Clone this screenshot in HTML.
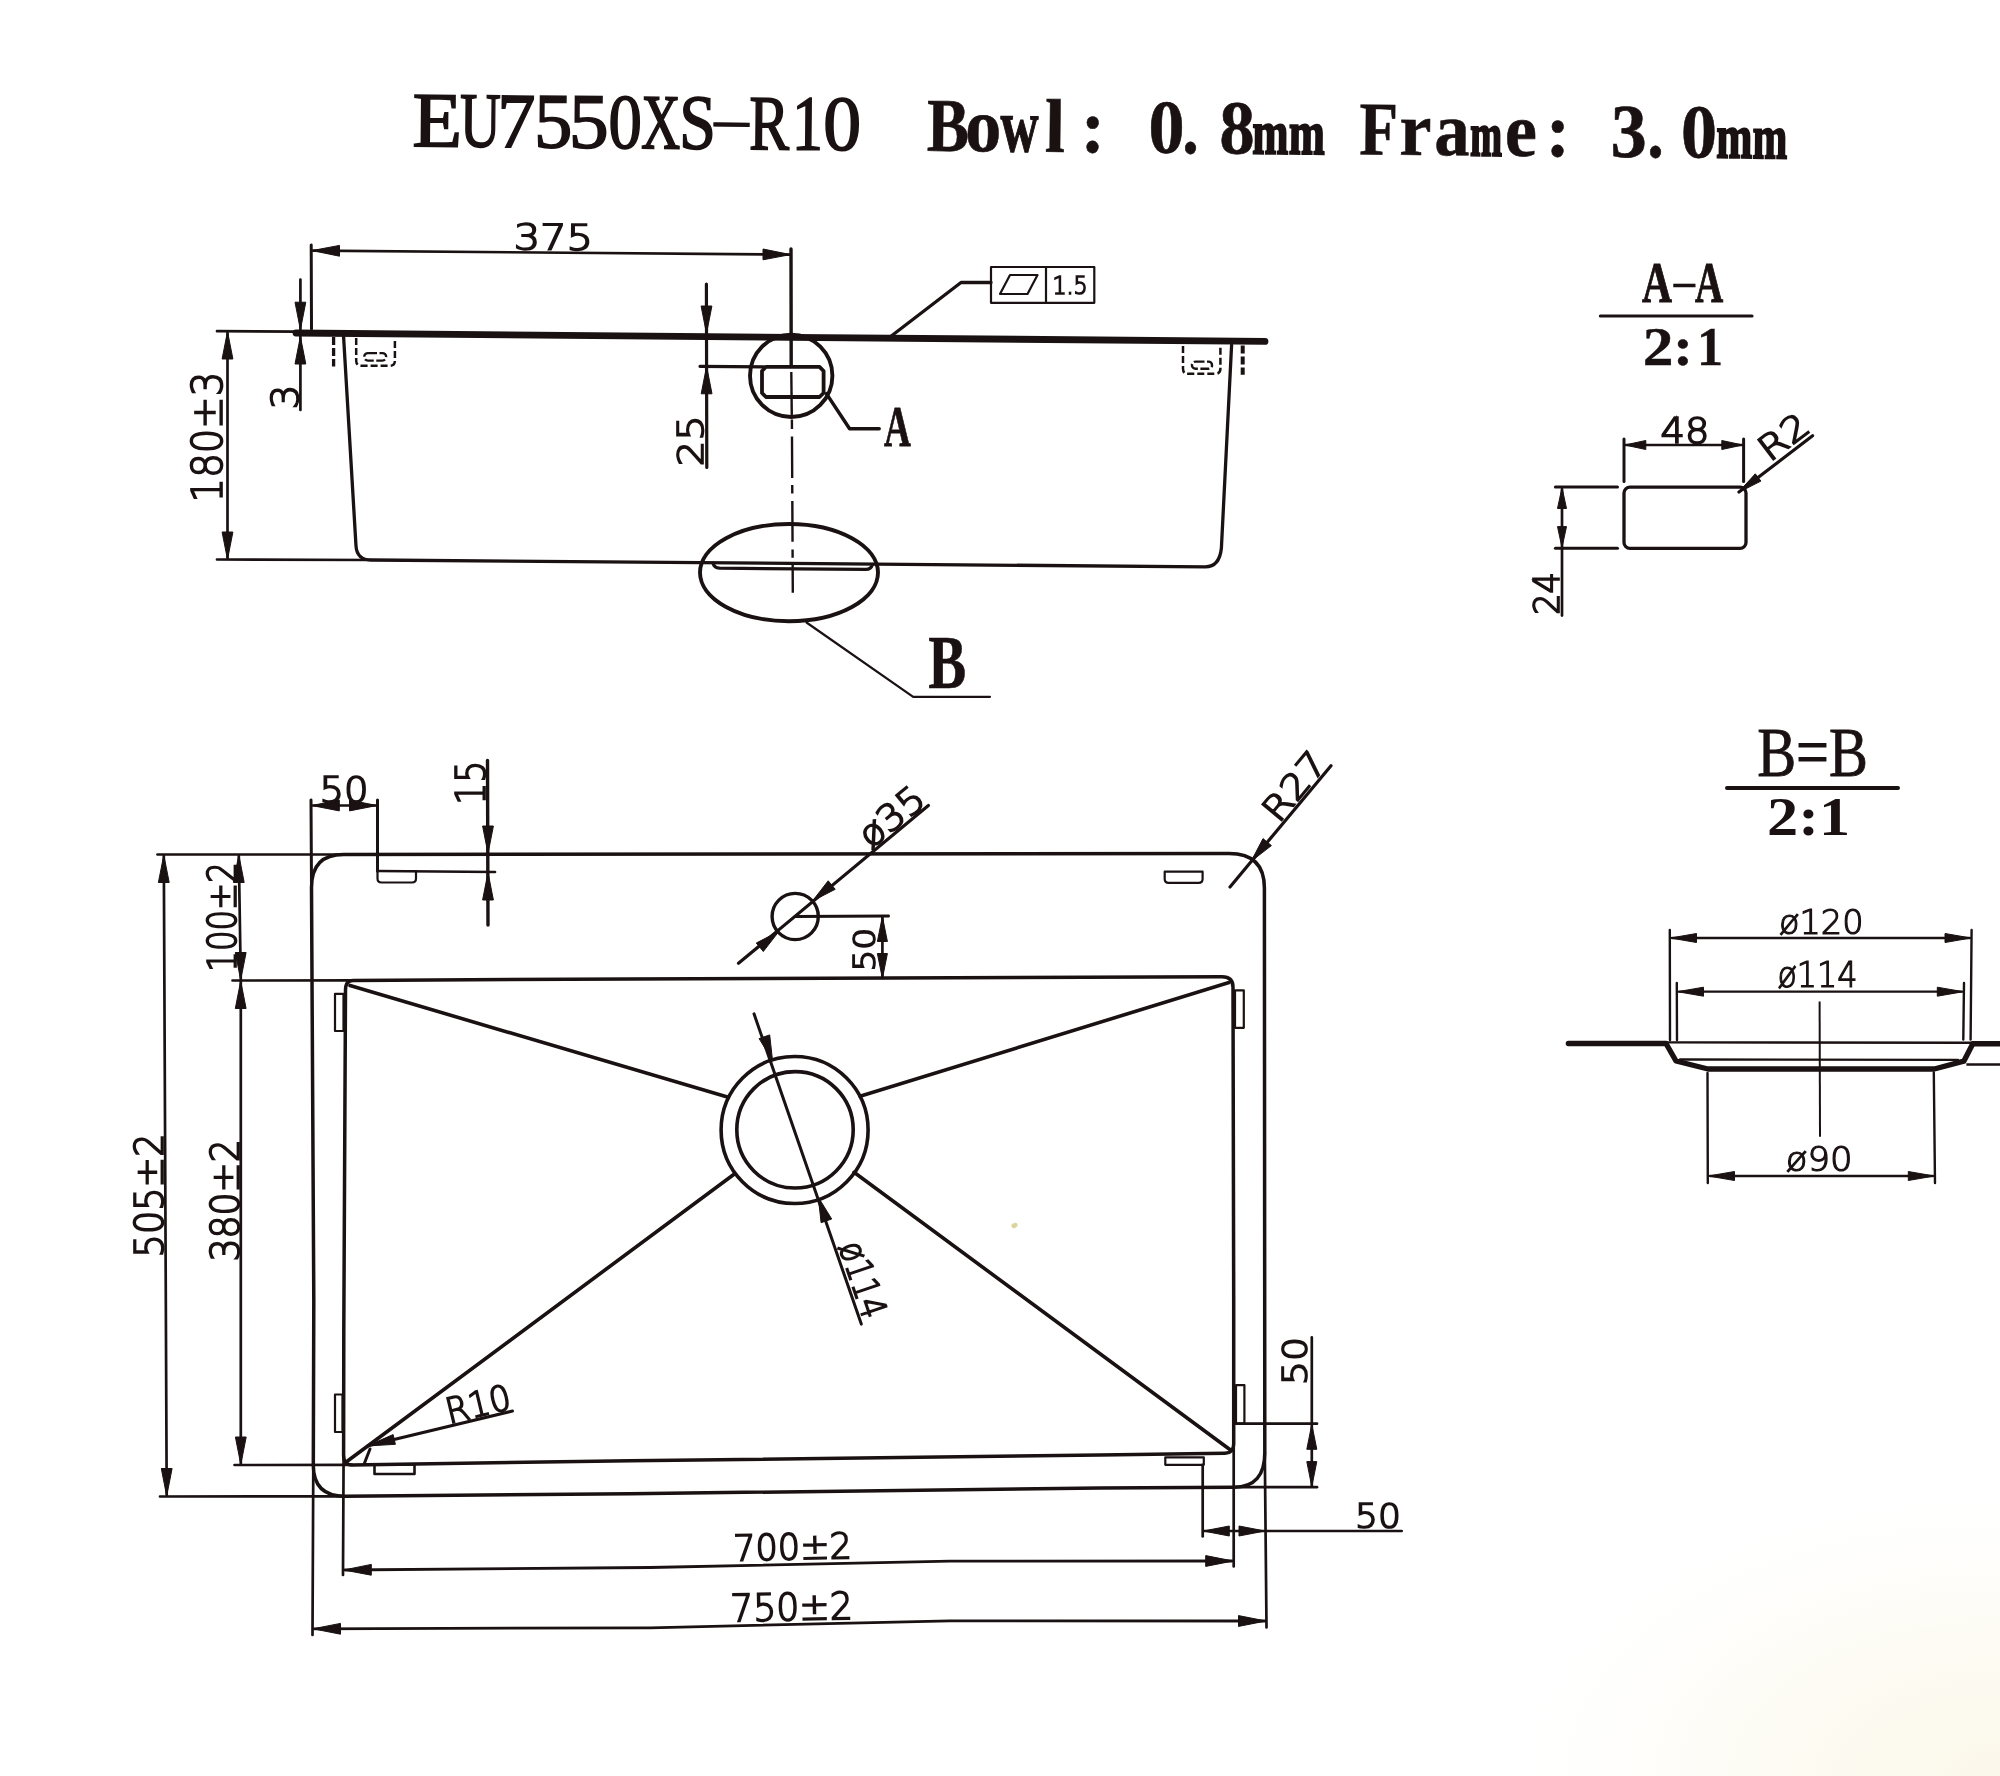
<!DOCTYPE html>
<html><head><meta charset="utf-8"><title>EU7550XS-R10</title>
<style>
html,body{margin:0;padding:0;background:#fff;overflow:hidden;}
svg{display:block;will-change:transform}
.dr path,.dr line,.dr circle,.dr ellipse,.dr rect{fill:none;stroke:#1a1112;stroke-linejoin:round}
.dr polygon{stroke:#1a1112;stroke-linejoin:round}
.dr .ar{fill:#1a1112;stroke:#1a1112;stroke-width:1}
.cad{font-family:"DejaVu Sans Light","DejaVu Sans","Liberation Sans",sans-serif;font-weight:200;fill:#1a1112;stroke:#1a1112}
.ser{font-family:"Liberation Serif","DejaVu Serif",serif;fill:#1a1112;stroke:#1a1112}
</style></head>
<body>
<svg width="2000" height="1776" viewBox="0 0 2000 1776">
<defs><radialGradient id="tint" gradientUnits="userSpaceOnUse" cx="2000" cy="1776" r="520" gradientTransform="translate(2000,1776) scale(1,0.58) translate(-2000,-1776)">
<stop offset="0" stop-color="#fbf8ea"/><stop offset="0.5" stop-color="#fcfaf0" stop-opacity="0.75"/><stop offset="1" stop-color="#ffffff" stop-opacity="0"/></radialGradient></defs>
<rect width="2000" height="1776" fill="#ffffff"/>
<rect width="2000" height="1776" fill="url(#tint)"/>
<g class="dr">
<text class="ser" font-size="78" font-weight="normal" stroke-width="1.7" transform="translate(413.8,146.2) rotate(0.5)"><tspan x="-1.5" y="0" textLength="49.7" lengthAdjust="spacingAndGlyphs">E</tspan><tspan x="45.9" y="0" textLength="40.7" lengthAdjust="spacingAndGlyphs">U</tspan><tspan x="83.3" y="0" textLength="38.0" lengthAdjust="spacingAndGlyphs">7</tspan><tspan x="120.1" y="0" textLength="38.2" lengthAdjust="spacingAndGlyphs">5</tspan><tspan x="154.9" y="0" textLength="39.8" lengthAdjust="spacingAndGlyphs">5</tspan><tspan x="194.5" y="0" textLength="33.4" lengthAdjust="spacingAndGlyphs">0</tspan><tspan x="227.2" y="0" textLength="39.2" lengthAdjust="spacingAndGlyphs">X</tspan><tspan x="265.1" y="0" textLength="36.8" lengthAdjust="spacingAndGlyphs">S</tspan><tspan x="295.5" y="-13.5" textLength="43.8" lengthAdjust="spacingAndGlyphs" stroke-width="0.8" font-size="46">-</tspan><tspan x="335.3" y="0" textLength="40.1" lengthAdjust="spacingAndGlyphs">R</tspan><tspan x="377.9" y="0" textLength="31.2" lengthAdjust="spacingAndGlyphs">1</tspan><tspan x="409.2" y="0" textLength="37.9" lengthAdjust="spacingAndGlyphs">0</tspan></text>
<text class="ser" font-size="76" font-weight="bold" stroke-width="0.6" transform="translate(413.8,146.2) rotate(0.5)"><tspan x="512.9" y="0" textLength="42.2" lengthAdjust="spacingAndGlyphs">B</tspan><tspan x="551.3" y="0" textLength="36.1" lengthAdjust="spacingAndGlyphs">o</tspan><tspan x="586.6" y="0" textLength="38.0" lengthAdjust="spacingAndGlyphs" stroke-width="1.2">w</tspan><tspan x="631.1" y="0" textLength="20.1" lengthAdjust="spacingAndGlyphs">l</tspan><tspan x="667.0" y="0" textLength="24.0" lengthAdjust="spacingAndGlyphs">:</tspan> <tspan x="734.4" y="0" textLength="36.1" lengthAdjust="spacingAndGlyphs">0</tspan><tspan x="768.6" y="0" textLength="16.5" lengthAdjust="spacingAndGlyphs">.</tspan><tspan x="805.5" y="0" textLength="35.3" lengthAdjust="spacingAndGlyphs">8</tspan><tspan x="838.6" y="0" textLength="36.0" lengthAdjust="spacingAndGlyphs" stroke-width="2.2" font-size="62">m</tspan><tspan x="874.9" y="0" textLength="35.9" lengthAdjust="spacingAndGlyphs" stroke-width="2.2" font-size="62">m</tspan> <tspan x="945.4" y="0" textLength="38.5" lengthAdjust="spacingAndGlyphs">F</tspan><tspan x="985.6" y="0" textLength="32.0" lengthAdjust="spacingAndGlyphs">r</tspan><tspan x="1020.5" y="0" textLength="35.2" lengthAdjust="spacingAndGlyphs">a</tspan><tspan x="1056.3" y="0" textLength="32.0" lengthAdjust="spacingAndGlyphs" stroke-width="2.2" font-size="62">m</tspan><tspan x="1091.1" y="0" textLength="32.0" lengthAdjust="spacingAndGlyphs">e</tspan><tspan x="1132.0" y="0" textLength="24.0" lengthAdjust="spacingAndGlyphs">:</tspan> <tspan x="1196.8" y="0" textLength="36.1" lengthAdjust="spacingAndGlyphs">3</tspan><tspan x="1233.6" y="0" textLength="16.5" lengthAdjust="spacingAndGlyphs">.</tspan><tspan x="1266.9" y="0" textLength="36.1" lengthAdjust="spacingAndGlyphs">0</tspan><tspan x="1302.4" y="0" textLength="35.9" lengthAdjust="spacingAndGlyphs" stroke-width="2.2" font-size="62">m</tspan><tspan x="1338.7" y="0" textLength="34.6" lengthAdjust="spacingAndGlyphs" stroke-width="2.2" font-size="62">m</tspan></text>
<path d="M217.0,331.2 L297.0,331.6" stroke-width="2.7" stroke-linecap="round"/>
<path d="M296.0,333.0 L1265.0,341.4" stroke-width="6.8" stroke-linecap="round"/>
<path d="M227.5,333.0 L227.5,558.0" stroke-width="2.7" stroke-linecap="round"/>
<polygon class="ar" points="227.5,331.5 232.9,359.0 222.1,359.0"/>
<polygon class="ar" points="227.5,559.5 222.1,532.0 232.9,532.0"/>
<path d="M217.0,559.5 L370.0,560.0" stroke-width="2.7" stroke-linecap="round"/>
<text class="cad" transform="translate(222.5,499.0) rotate(-90.00)" x="-3.4" y="-0.8" font-size="42.2" textLength="130.6" lengthAdjust="spacingAndGlyphs" stroke-width="1.7">180±3</text>
<path d="M300.4,279.5 L300.4,410.0" stroke-width="2.7" stroke-linecap="round"/>
<polygon class="ar" points="300.4,329.7 295.0,302.2 305.8,302.2"/>
<polygon class="ar" points="300.4,336.5 305.8,364.0 295.0,364.0"/>
<text class="cad" transform="translate(298.6,407.2) rotate(-90.00)" x="-2.1" y="-0.8" font-size="38.1" textLength="24.7" lengthAdjust="spacingAndGlyphs" stroke-width="1.7">3</text>
<path d="M311.2,245.0 L311.5,329.0" stroke-width="3.0" stroke-linecap="round"/>
<path d="M313.0,250.6 L790.0,254.6" stroke-width="2.7" stroke-linecap="round"/>
<polygon class="ar" points="312.0,250.6 339.5,245.4 339.5,256.2"/>
<polygon class="ar" points="790.5,254.6 763.0,259.8 763.0,249.0"/>
<text class="cad" transform="translate(516.0,250.0) rotate(0.50)" x="-2.3" y="-0.8" font-size="35.4" textLength="79.1" lengthAdjust="spacingAndGlyphs" stroke-width="1.7">375</text>
<path d="M343.6,337 L356,546 Q357,560 371,560 L1205,566.8 Q1219.5,567 1221.4,548 L1231.6,345" stroke-width="3.3" stroke-linecap="round"/>
<path d="M333.6,337.0 L333.6,366.6" stroke-width="3.3" stroke-linecap="butt" stroke-dasharray="8 3"/>
<path d="M356.2,338 L356.2,360.7 Q356.2,365.7 361.2,365.7 L389.9,365.7 Q394.9,365.7 394.9,360.7 L394.9,338" stroke-width="2.5" stroke-linecap="butt" stroke-dasharray="7 3"/>
<path d="M368,353.1 H382.4 A3.75,3.75 0 0 1 382.4,360.6 H368 A3.75,3.75 0 0 1 368,353.1 Z" stroke-width="2.4" stroke-linecap="butt" stroke-dasharray="9 2.5"/>
<path d="M1242.7,345.5 L1242.7,374.8" stroke-width="4" stroke-linecap="butt" stroke-dasharray="8 3"/>
<path d="M1183,346 L1183,368.8 Q1183,373.8 1188,373.8 L1215.4,373.8 Q1220.4,373.8 1220.4,368.8 L1220.4,346" stroke-width="2.5" stroke-linecap="butt" stroke-dasharray="7 3"/>
<path d="M1195.5,361.6 H1208.5 A3.55,3.55 0 0 1 1208.5,368.7 H1195.5 A3.55,3.55 0 0 1 1195.5,361.6 Z" stroke-width="2.4" stroke-linecap="butt" stroke-dasharray="9 2.5"/>
<path d="M706.4,284.0 L706.8,467.5" stroke-width="3.2" stroke-linecap="round"/>
<polygon class="ar" points="706.5,333.5 701.1,306.0 711.9,306.0"/>
<polygon class="ar" points="706.6,366.3 712.0,393.8 701.2,393.8"/>
<path d="M700.0,366.3 L764.0,366.8" stroke-width="3.2" stroke-linecap="round"/>
<text class="cad" transform="translate(703.8,464.4) rotate(-90.00)" x="-1.9" y="-0.8" font-size="36.1" textLength="51.0" lengthAdjust="spacingAndGlyphs" stroke-width="1.7">25</text>
<circle cx="791.2" cy="375.8" r="41.2" stroke-width="3.9"/>
<path d="M766,366.8 H819.5 L823.6,371 V393 L819.5,397 H766 L762,393 V371 Z" stroke-width="3.8" stroke-linecap="round"/>
<path d="M791.0,249.0 L791.2,366.0" stroke-width="3.4" stroke-linecap="round"/>
<path d="M791.3,372.0 L791.8,418.0" stroke-width="2.4" stroke-linecap="butt"/>
<path d="M791.9,419.5 L792.8,592.7" stroke-width="2.4" stroke-linecap="butt" stroke-dasharray="9.5 7.6 41.4 7 8.4 7.6 40.8 7.7 8.3 7.2 30"/>
<path d="M826.4,393.6 L849.6,428.8 L879.2,428.8" stroke-width="3.5" stroke-linecap="round"/>
<text class="ser" transform="translate(884.0,446.0) rotate(0)" x="0.0" y="-0.4" font-size="57.6" font-weight="bold" textLength="26.8" lengthAdjust="spacingAndGlyphs" stroke-width="0.8">A</text>
<path d="M890.0,337.0 L961.0,282.5 L991.0,282.5" stroke-width="3.3" stroke-linecap="round"/>
<rect x="991" y="267" width="103.3" height="35.8" stroke-width="2.2"/>
<path d="M1046.0,267.0 L1046.0,302.8" stroke-width="2.2" stroke-linecap="butt"/>
<polygon points="1000,294 1010,275 1037.5,275 1027.5,294" stroke-width="2.2" fill="none"/>
<text class="cad" transform="translate(1054.0,295.0) rotate(0.00)" x="-1.6" y="-0.8" font-size="24.6" textLength="35.3" lengthAdjust="spacingAndGlyphs" stroke-width="1.6">1.5</text>
<ellipse cx="789" cy="572.6" rx="89" ry="48.6" stroke-width="3.9"/>
<path d="M713,563.2 Q714,568 719.5,568.2 L866,569.4 Q871,569.4 872.5,564.5" stroke-width="3.2" stroke-linecap="round"/>
<path d="M806.5,622.5 L913.2,696.8 L990.0,696.8" stroke-width="2.2" stroke-linecap="round"/>
<text class="ser" transform="translate(928.8,688.4) rotate(0)" x="-0.6" y="-0.3" font-size="76.9" font-weight="bold" textLength="37.9" lengthAdjust="spacingAndGlyphs" stroke-width="0.6">B</text>
<text class="ser" font-size="57.3" font-weight="bold" stroke-width="1.0" transform="translate(1642,302) rotate(0)"><tspan x="0.1" y="0" textLength="30.0" lengthAdjust="spacingAndGlyphs">A</tspan><tspan x="28.9" y="-8.5" textLength="26.8" lengthAdjust="spacingAndGlyphs" stroke-width="0.6" font-size="36">-</tspan><tspan x="53.1" y="0" textLength="28.2" lengthAdjust="spacingAndGlyphs">A</tspan></text>
<path d="M1600.4,316.0 L1752.0,316.0" stroke-width="3.2" stroke-linecap="round"/>
<text class="ser" font-size="55.9" font-weight="bold" stroke-width="0.4" transform="translate(1644.3,365) rotate(0)"><tspan x="-1.5" y="0" textLength="30.7" lengthAdjust="spacingAndGlyphs">2</tspan><tspan x="28.7" y="0" textLength="20.2" lengthAdjust="spacingAndGlyphs">:</tspan><tspan x="52.6" y="0" textLength="26.1" lengthAdjust="spacingAndGlyphs">1</tspan></text>
<path d="M1624.0,439.0 L1624.0,481.5" stroke-width="3.0" stroke-linecap="round"/>
<path d="M1743.6,439.0 L1743.6,481.5" stroke-width="3.0" stroke-linecap="round"/>
<path d="M1626.0,445.0 L1742.0,445.0" stroke-width="2.7" stroke-linecap="round"/>
<polygon class="ar" points="1624.8,445.0 1645.8,440.5 1645.8,449.5"/>
<polygon class="ar" points="1742.8,445.0 1721.8,449.5 1721.8,440.5"/>
<text class="cad" transform="translate(1661.6,443.6) rotate(0.00)" x="-1.0" y="-0.8" font-size="35.5" textLength="48.8" lengthAdjust="spacingAndGlyphs" stroke-width="1.7">48</text>
<rect x="1624" y="487.1" width="122" height="61.3" rx="6" stroke-width="3.3"/>
<path d="M1739.0,492.0 L1812.6,435.8" stroke-width="3.2" stroke-linecap="round"/>
<polygon class="ar" points="1738.2,492.6 1755.3,473.8 1760.9,481.1"/>
<text class="cad" transform="translate(1773.2,461.0) rotate(-37.36)" x="-4.1" y="-0.8" font-size="34.7" textLength="53.8" lengthAdjust="spacingAndGlyphs" stroke-width="1.7">R2</text>
<path d="M1562.0,489.0 L1562.0,615.6" stroke-width="2.7" stroke-linecap="round"/>
<path d="M1555.4,486.9 L1617.5,486.9" stroke-width="3.0" stroke-linecap="round"/>
<path d="M1555.4,548.2 L1617.5,548.2" stroke-width="3.0" stroke-linecap="round"/>
<polygon class="ar" points="1562.0,487.5 1566.5,508.5 1557.5,508.5"/>
<polygon class="ar" points="1562.0,547.6 1557.5,526.6 1566.5,526.6"/>
<text class="cad" transform="translate(1559.6,613.3) rotate(-90.00)" x="-1.5" y="-0.8" font-size="35.1" textLength="42.6" lengthAdjust="spacingAndGlyphs" stroke-width="1.7">24</text>
<text class="ser" transform="translate(1758.5,776.3) rotate(0)" x="-1.3" y="-0.4" font-size="69.0" font-weight="normal" textLength="110.7" lengthAdjust="spacingAndGlyphs" stroke-width="0.8">B=B</text>
<path d="M1727.0,788.0 L1898.0,788.0" stroke-width="4.0" stroke-linecap="round"/>
<text class="ser" transform="translate(1769.7,835.4) rotate(0)" x="-2.6" y="0.0" font-size="54.0" font-weight="bold" textLength="83.1" lengthAdjust="spacingAndGlyphs" stroke-width="0">2:1</text>
<path d="M1669.8,930.0 L1670.0,1040.0" stroke-width="2.4" stroke-linecap="round"/>
<path d="M1971.6,930.0 L1970.6,1039.6" stroke-width="2.4" stroke-linecap="round"/>
<path d="M1672.0,938.0 L1970.0,938.0" stroke-width="2.3" stroke-linecap="round"/>
<polygon class="ar" points="1670.5,938.0 1696.5,933.5 1696.5,942.5"/>
<polygon class="ar" points="1971.0,938.0 1945.0,942.5 1945.0,933.5"/>
<text class="cad" transform="translate(1779.6,935.0) rotate(0.00)" x="-0.7" y="-0.6" font-size="34.0" textLength="84.6" lengthAdjust="spacingAndGlyphs" stroke-width="1.2">ø120</text>
<path d="M1676.8,983.0 L1677.0,1040.0" stroke-width="2.4" stroke-linecap="round"/>
<path d="M1964.0,983.0 L1963.3,1039.6" stroke-width="2.4" stroke-linecap="round"/>
<path d="M1679.0,991.7 L1962.0,991.7" stroke-width="2.3" stroke-linecap="round"/>
<polygon class="ar" points="1677.5,991.7 1703.5,987.2 1703.5,996.2"/>
<polygon class="ar" points="1963.3,991.7 1937.3,996.2 1937.3,987.2"/>
<text class="cad" transform="translate(1778.0,987.5) rotate(0.00)" x="-0.6" y="-0.6" font-size="34.7" textLength="80.2" lengthAdjust="spacingAndGlyphs" stroke-width="1.2">ø114</text>
<path d="M1819.6,1001.5 L1820.0,1136.7" stroke-width="2.0" stroke-linecap="butt"/>
<path d="M1568.4,1043.5 L1666,1043.5 L1676,1061 L1708,1069 L1934.3,1069 L1963.8,1061.2 L1972.8,1043.8 L2002,1043.8" stroke-width="5.4" stroke-linecap="round"/>
<path d="M1668,1042.4 L1971,1042.8" stroke-width="2.4" stroke-linecap="round"/>
<path d="M1680,1059.5 L1958,1059.9" stroke-width="2.4" stroke-linecap="round"/>
<path d="M1966.4,1064.5 L2002.0,1064.5" stroke-width="2.4" stroke-linecap="butt"/>
<path d="M1707.5,1073.0 L1707.8,1183.0" stroke-width="2.4" stroke-linecap="round"/>
<path d="M1933.8,1072.5 L1935.0,1183.0" stroke-width="2.4" stroke-linecap="round"/>
<path d="M1710.0,1176.0 L1933.0,1176.0" stroke-width="2.3" stroke-linecap="round"/>
<polygon class="ar" points="1708.5,1176.0 1734.5,1171.5 1734.5,1180.5"/>
<polygon class="ar" points="1934.3,1176.0 1908.3,1180.5 1908.3,1171.5"/>
<text class="cad" transform="translate(1786.6,1172.0) rotate(0.00)" x="-0.8" y="-0.6" font-size="33.3" textLength="66.9" lengthAdjust="spacingAndGlyphs" stroke-width="1.2">ø90</text>
<path d="M343.5,854.5 L1229,853.5 Q1264.4,853.5 1264.4,888 L1264.8,1452 Q1265,1487.2 1234,1487.2 L1100,1487.9 L630,1493.8 L345,1496.3 Q313.3,1496.3 313.3,1465 L313.8,1300 L311.5,887.5 Q311.5,854.5 343.5,854.5 Z" stroke-width="3.5" stroke-linecap="round"/>
<path d="M353,980.4 L630,979 L1222,976.7 Q1233,976.7 1233,987 L1233.7,1300 L1233.7,1444 Q1233.7,1453 1225,1453.2 L1100,1455 L630,1460.8 L352,1464.9 Q343.6,1464.9 343.6,1455 L343.8,1330 L345.5,990 Q345.5,980.4 353,980.4 Z" stroke-width="3.5" stroke-linecap="round"/>
<path d="M350.0,985.5 L728.3,1097.3" stroke-width="3.6" stroke-linecap="round"/>
<path d="M1229.0,982.5 L860.0,1096.3" stroke-width="3.6" stroke-linecap="round"/>
<path d="M347.5,1461.0 L734.4,1174.0" stroke-width="3.6" stroke-linecap="round"/>
<path d="M1230.5,1450.0 L854.0,1172.3" stroke-width="3.6" stroke-linecap="round"/>
<circle cx="794.6" cy="1130" r="73.5" stroke-width="3.6"/>
<circle cx="795" cy="1129.8" r="58.2" stroke-width="3.6"/>
<path d="M754.0,1013.8 L861.3,1324.1" stroke-width="3.0" stroke-linecap="round"/>
<polygon class="ar" points="772.5,1060.4 759.1,1038.6 769.7,1034.9"/>
<polygon class="ar" points="818.3,1197.2 831.7,1219.0 821.1,1222.7"/>
<text class="cad" transform="translate(837.9,1247.0) rotate(71.30)" x="-0.4" y="-0.8" font-size="36.1" textLength="78.5" lengthAdjust="spacingAndGlyphs" stroke-width="1.7">ø114</text>
<circle cx="795.2" cy="916.5" r="23.1" stroke-width="3.4"/>
<path d="M738.5,963.3 L928.4,805.4" stroke-width="3.2" stroke-linecap="round"/>
<polygon class="ar" points="779.0,931.3 763.3,951.5 756.3,943.0"/>
<polygon class="ar" points="812.5,901.0 828.2,880.8 835.2,889.3"/>
<text class="cad" transform="translate(871.7,850.0) rotate(-39.40)" x="-0.7" y="-0.8" font-size="36.1" textLength="74.2" lengthAdjust="spacingAndGlyphs" stroke-width="1.7">ø35</text>
<path d="M795.0,916.4 L888.5,916.0" stroke-width="3.0" stroke-linecap="round"/>
<path d="M882.4,917.0 L882.4,978.0" stroke-width="2.7" stroke-linecap="round"/>
<polygon class="ar" points="882.4,916.5 887.4,941.5 877.4,941.5"/>
<polygon class="ar" points="882.4,978.5 877.4,953.5 887.4,953.5"/>
<text class="cad" transform="translate(875.3,969.0) rotate(-90.00)" x="-2.6" y="-0.8" font-size="29.6" textLength="43.9" lengthAdjust="spacingAndGlyphs" stroke-width="1.7">50</text>
<path d="M1230.0,887.0 L1331.0,765.7" stroke-width="3.2" stroke-linecap="round"/>
<polygon class="ar" points="1251.2,861.3 1263.0,838.6 1271.4,845.6"/>
<text class="cad" transform="translate(1281.7,821.6) rotate(-50.15)" x="-4.1" y="-0.8" font-size="34.7" textLength="78.7" lengthAdjust="spacingAndGlyphs" stroke-width="1.7">R27</text>
<path d="M1164.7,871.7 H1202.6 V879 Q1202.6,882.9 1198.6,882.9 H1168.7 Q1164.7,882.9 1164.7,879 Z" stroke-width="2.2" stroke-linecap="round"/>
<path d="M377.5,871 H416 V878.5 Q416,882.5 412,882.5 H381.5 Q377.5,882.5 377.5,878.5 Z" stroke-width="2.2" stroke-linecap="round"/>
<rect x="335" y="993.8" width="8.5" height="37.2" stroke-width="2.2"/>
<rect x="335" y="1394.5" width="7.5" height="37.5" stroke-width="2.2"/>
<rect x="1235" y="990.3" width="8.8" height="37.5" stroke-width="2.2"/>
<rect x="1236" y="1385.2" width="8.4" height="38.5" stroke-width="2.2"/>
<rect x="374.5" y="1464.5" width="40" height="9.5" stroke-width="2.6"/>
<rect x="1165.3" y="1457.3" width="38.5" height="7.5" stroke-width="2.2"/>
<path d="M311.0,800.0 L311.5,888.0" stroke-width="3.0" stroke-linecap="round"/>
<path d="M377.5,800.0 L377.5,871.0" stroke-width="3.0" stroke-linecap="round"/>
<path d="M313.0,805.5 L376.0,805.5" stroke-width="2.7" stroke-linecap="round"/>
<polygon class="ar" points="311.8,805.5 339.3,800.1 339.3,810.9"/>
<polygon class="ar" points="377.0,805.5 349.5,810.9 349.5,800.1"/>
<text class="cad" transform="translate(322.5,802.5) rotate(0.00)" x="-3.0" y="-0.8" font-size="35.4" textLength="49.2" lengthAdjust="spacingAndGlyphs" stroke-width="1.7">50</text>
<path d="M377.5,871.0 L495.0,872.0" stroke-width="2.7" stroke-linecap="round"/>
<path d="M487.5,760.5 L488.0,925.0" stroke-width="3.4" stroke-linecap="round"/>
<polygon class="ar" points="488.0,853.5 482.6,826.0 493.4,826.0"/>
<polygon class="ar" points="488.0,872.5 493.4,900.0 482.6,900.0"/>
<text class="cad" transform="translate(485.8,801.8) rotate(-90.00)" x="-3.0" y="-0.8" font-size="40.2" textLength="44.3" lengthAdjust="spacingAndGlyphs" stroke-width="1.7">15</text>
<path d="M157.5,854.5 L343.5,854.5" stroke-width="2.7" stroke-linecap="round"/>
<path d="M160.0,1496.5 L345.0,1496.3" stroke-width="2.7" stroke-linecap="round"/>
<path d="M163.8,856.0 L166.7,1495.0" stroke-width="2.7" stroke-linecap="round"/>
<polygon class="ar" points="163.8,855.0 169.2,882.5 158.4,882.5"/>
<polygon class="ar" points="166.7,1496.0 161.3,1468.5 172.1,1468.5"/>
<text class="cad" transform="translate(164.0,1254.6) rotate(-90.00)" x="-2.8" y="-0.8" font-size="38.5" textLength="123.9" lengthAdjust="spacingAndGlyphs" stroke-width="1.7">505±2</text>
<path d="M232.5,980.5 L353.0,980.4" stroke-width="2.7" stroke-linecap="round"/>
<path d="M234.5,1465.0 L352.0,1464.9" stroke-width="2.7" stroke-linecap="round"/>
<path d="M238.8,856.0 L240.8,980.0 L240.8,1464.0" stroke-width="2.7" stroke-linecap="round"/>
<polygon class="ar" points="238.8,855.0 244.2,882.5 233.4,882.5"/>
<polygon class="ar" points="240.7,980.0 235.3,952.5 246.1,952.5"/>
<polygon class="ar" points="240.7,981.0 246.1,1008.5 235.3,1008.5"/>
<polygon class="ar" points="240.8,1464.5 235.4,1437.0 246.2,1437.0"/>
<text class="cad" transform="translate(236.8,969.0) rotate(-90.00)" x="-2.7" y="-0.8" font-size="38.3" textLength="109.5" lengthAdjust="spacingAndGlyphs" stroke-width="1.7">100±2</text>
<text class="cad" transform="translate(240.0,1259.6) rotate(-90.00)" x="-1.9" y="-0.8" font-size="38.3" textLength="122.3" lengthAdjust="spacingAndGlyphs" stroke-width="1.7">380±2</text>
<path d="M368.0,1445.8 L512.5,1411.0" stroke-width="3.0" stroke-linecap="round"/>
<polygon class="ar" points="367.0,1446.0 393.1,1434.6 395.4,1444.3"/>
<path d="M370,1449 L364.5,1463" stroke-width="3.0" stroke-linecap="round"/>
<text class="cad" transform="translate(452.3,1424.0) rotate(-13.53)" x="-3.3" y="-0.8" font-size="35.3" textLength="66.0" lengthAdjust="spacingAndGlyphs" stroke-width="1.7">R10</text>
<path d="M1236.0,1423.7 L1317.0,1423.7" stroke-width="2.7" stroke-linecap="round"/>
<path d="M1236.0,1487.2 L1317.0,1487.2" stroke-width="2.7" stroke-linecap="round"/>
<path d="M1311.8,1337.4 L1311.8,1486.0" stroke-width="2.7" stroke-linecap="round"/>
<polygon class="ar" points="1311.8,1424.3 1316.8,1449.3 1306.8,1449.3"/>
<polygon class="ar" points="1311.8,1486.6 1306.8,1461.6 1316.8,1461.6"/>
<text class="cad" transform="translate(1307.6,1382.4) rotate(-90.00)" x="-2.9" y="-0.8" font-size="34.4" textLength="48.4" lengthAdjust="spacingAndGlyphs" stroke-width="1.7">50</text>
<path d="M1202.7,1464.8 L1202.7,1536.5" stroke-width="2.7" stroke-linecap="round"/>
<path d="M1204.0,1531.0 L1401.7,1531.0" stroke-width="2.7" stroke-linecap="round"/>
<polygon class="ar" points="1203.3,1531.0 1229.3,1526.0 1229.3,1536.0"/>
<polygon class="ar" points="1265.0,1531.0 1239.0,1536.0 1239.0,1526.0"/>
<text class="cad" transform="translate(1357.8,1529.0) rotate(0.00)" x="-2.7" y="-0.8" font-size="34.4" textLength="45.9" lengthAdjust="spacingAndGlyphs" stroke-width="1.7">50</text>
<path d="M343.6,1455.0 L343.0,1575.0" stroke-width="2.7" stroke-linecap="round"/>
<path d="M1233.7,1444.0 L1233.7,1566.4" stroke-width="2.7" stroke-linecap="round"/>
<path d="M345.0,1570.0 L650.0,1567.5 L950.0,1561.2 L1232.0,1561.0" stroke-width="2.8" stroke-linecap="round"/>
<polygon class="ar" points="343.8,1570.0 371.3,1564.4 371.3,1575.2"/>
<polygon class="ar" points="1233.2,1561.0 1205.7,1566.4 1205.7,1555.6"/>
<text class="cad" transform="translate(735.5,1561.5) rotate(-1.20)" x="-2.0" y="-0.8" font-size="35.8" textLength="118.7" lengthAdjust="spacingAndGlyphs" stroke-width="1.7">700±2</text>
<path d="M313.3,1465.0 L312.5,1635.0" stroke-width="2.7" stroke-linecap="round"/>
<path d="M1264.8,1452.0 L1266.5,1627.4" stroke-width="2.7" stroke-linecap="round"/>
<path d="M314.0,1628.8 L650.0,1627.8 L950.0,1620.8 L1265.0,1621.0" stroke-width="2.8" stroke-linecap="round"/>
<polygon class="ar" points="313.0,1628.8 340.5,1623.4 340.5,1634.2"/>
<polygon class="ar" points="1266.0,1621.0 1238.5,1626.4 1238.5,1615.6"/>
<text class="cad" transform="translate(732.5,1622.3) rotate(-1.20)" x="-2.1" y="-0.8" font-size="37.7" textLength="122.7" lengthAdjust="spacingAndGlyphs" stroke-width="1.7">750±2</text>
<ellipse cx="1014.5" cy="1225.5" rx="3.2" ry="2.4" style="fill:#ddd39c;stroke:none" transform="rotate(-25 1014.5 1225.5)"/>
</g>
</svg>
</body></html>
